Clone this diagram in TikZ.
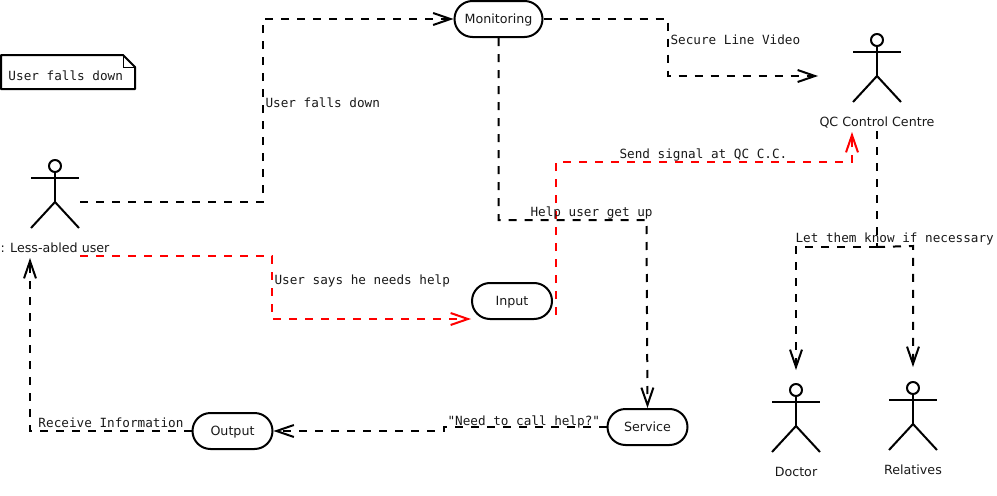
\documentclass[tikz,border=0pt]{standalone}
\usepackage{fontspec}
\setmainfont{DejaVu Sans}
\setmonofont{DejaVu Sans Mono}
\usetikzlibrary{arrows.meta,calc}
\tikzset{
  x=0.75pt,y=-0.75pt,
  every path/.style={line width=1.5pt},
  shapeline/.style={draw=black,line width=1.5pt,line join=round},
  statebox/.style={draw=black,line width=1.5pt,rounded corners=13.5pt,fill=white,minimum width=60pt,minimum height=27pt,inner sep=0pt,text height=7.5pt,text depth=1.5pt,font=\rmfamily\fontsize{9.5pt}{11pt}\selectfont,text=black!90},
  flow/.style={draw=black,line width=1.5pt,dash pattern=on 6pt off 6pt,-{Straight Barb[length=13pt,width=9pt,line width=1.5pt]}},
  plainflow/.style={draw=black,line width=1.5pt,dash pattern=on 6pt off 6pt},
  redflow/.style={flow,draw=red,color=red},
  msg/.style={anchor=base west,inner sep=0pt,font=\ttfamily\fontsize{9.5pt}{11pt}\selectfont,text=black!90},
  actorname/.style={anchor=base,inner sep=0pt,font=\rmfamily\fontsize{9.5pt}{11pt}\selectfont,text=black!90},
  stick/.pic={
    \draw[shapeline] (0,0) circle[radius=6];
    \draw[shapeline] (-24,12) -- (24,12);
    \draw[shapeline] (0,6) -- (0,36);
    \draw[shapeline] (-24,62) -- (0,36) -- (24,62);
  }
}
\begin{document}
\begin{tikzpicture}
\useasboundingbox (0,0) rectangle (997,496);
% note
\draw[shapeline] (1,55) -- (123,55) -- (135,67) -- (135,89) -- (1,89) -- cycle;
\draw[draw=black,line width=0.75pt] (123,55) -- (123,67) -- (135,67);
\node[msg] (notetext) at (7.5,80) {User falls down};
% actors
\pic at (55,166) {stick};
\pic at (877,40) {stick};
\pic at (796,390) {stick};
\pic at (913,388) {stick};
\node[actorname] (userlabel) at (55,252) {: Less-abled user};
\node[actorname] (qclabel) at (877,126) {QC Control Centre};
\node[actorname] (doctorlabel) at (796,476) {Doctor};
\node[actorname] (relativeslabel) at (913,474) {Relatives};
% states
\node[statebox,minimum width=66pt] (mon) at (498.5,19) {Monitoring};
\node[statebox] (inp) at (512,301) {Input};
\node[statebox] (out) at (232.5,431) {Output};
\node[statebox] (srv) at (647.5,427) {Service};
% free ends
\coordinate (userA) at (80,202);
\coordinate (userB) at (80,256);
\coordinate (userIn) at (30,258);
\coordinate (qcIn) at (818,76);
\coordinate (qcInB) at (852,132);
\coordinate (qcOut) at (877,131);
\coordinate (qcJoin) at (877,247);
\coordinate (docIn) at (796,370);
\coordinate (relIn) at (913,367);
\coordinate (inpOut) at (556,315);
% connectors
\draw[flow] (userA) -- (263,202) -- (263,19) -- (mon.west);
\draw[flow] (mon.east) -- (668,19) -- (668,76) -- (qcIn);
\draw[flow] (mon.south) -- (498.5,220) -- (646.5,220) -- (srv.north);
\draw[redflow] (userB) -- (272,256) -- (272,319) -- (471,319);
\draw[redflow] (inpOut) -- (556,162) -- (852,162) -- (qcInB);
\draw[flow] (srv.west) -- (444,427) -- (444,431) -- (out.east);
\draw[flow] (out.west) -- (30,431) -- (userIn);
\draw[plainflow] (qcOut) -- (qcJoin);
\draw[flow] (qcJoin) -- (796,247) -- (docIn);
\draw[flow] (qcJoin) -- (913,246) -- (relIn);
% messages
\node[msg] (m1) at (264.5,107) {User falls down};
\node[msg] (m2) at (669.5,44) {Secure Line Video};
\node[msg] (m3) at (618.5,158) {Send signal at QC C.C.};
\node[msg] (m4) at (529.5,216) {Help user get up};
\node[msg] (m5) at (794.5,242) {Let them know if necessary};
\node[msg] (m6) at (273.5,284) {User says he needs help};
\node[msg] (m7) at (446.5,425) {"Need to call help?"};
\node[msg] (m8) at (37.5,427) {Receive Information};
\end{tikzpicture}
\end{document}
